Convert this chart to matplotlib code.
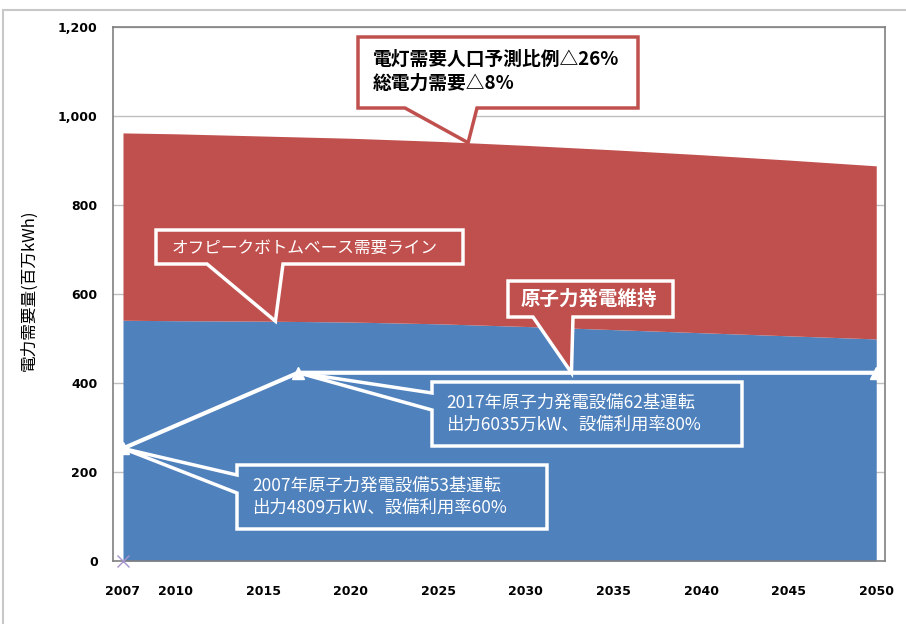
import matplotlib.pyplot as plt
from matplotlib.patches import Polygon, Rectangle
from matplotlib.transforms import IdentityTransform

plt.rcParams['font.family'] = ['Noto Sans CJK JP', 'DejaVu Sans']

# データ（百万kWh）
years = [2007, 2010, 2015, 2020, 2025, 2030, 2035, 2040, 2045, 2050]
base_demand = [541, 540, 539, 537, 533, 527, 520, 513, 506, 499]    # オフピークボトムベース
total_demand = [962, 960, 955, 950, 943, 934, 924, 913, 901, 888]   # 総電力需要
nuclear_years = [2007, 2017, 2050]
nuclear = [253, 423, 423]
xtick_years = [2007, 2010, 2015, 2020, 2025, 2030, 2035, 2040, 2045, 2050]

RED = '#C0504D'
BLUE = '#4F81BD'
W, H = 906, 624

fig = plt.figure(figsize=(W / 100, H / 100), dpi=100)
ax = fig.add_axes([113 / W, 1 - 561 / H, (885 - 113) / W, (561 - 27) / H])

ax.fill_between(years, 0, base_demand, color=BLUE, lw=0, zorder=2)
ax.fill_between(years, base_demand, total_demand, color=RED, lw=0, zorder=2)
ax.plot(nuclear_years, nuclear, color='white', lw=3, marker='^', ms=8,
        mec='white', mfc='white', zorder=3, clip_on=False)
ax.plot([2007], [0], marker='x', color='#A593CC', ms=9, mew=1, zorder=4, clip_on=False)

ax.set_xlim(2006.43, 2050.5)
ax.set_ylim(0, 1200)
ax.set_yticks(range(0, 1201, 200))
ax.set_yticklabels(['0', '200', '400', '600', '800', '1,000', '1,200'])
ax.set_xticks(xtick_years)
ax.grid(axis='y', color='#BFBFBF', lw=1, zorder=1)
ax.set_axisbelow(True)
for s in ax.spines.values():
    s.set_color('#808080')
    s.set_linewidth(1.2)
ax.tick_params(length=0)
ax.tick_params(axis='y', pad=11)
ax.tick_params(axis='x', pad=17)
for lab in ax.get_xticklabels() + ax.get_yticklabels():
    lab.set_fontfamily('DejaVu Sans')
    lab.set_fontweight('bold')
    lab.set_fontsize(9)
ax.set_ylabel('電力需要量(百万kWh)', fontsize=12)
ax.yaxis.set_label_coords(-0.098, 0.507)

# 外枠
fig.add_artist(Rectangle((3, -20), 1000, H - 10 + 20, transform=IdentityTransform(),
                         fill=False, ec='#C8C8C8', lw=1.5))

fig.canvas.draw()


def px(x, y):
    return (x, H - y)


def tip(xd, yd):
    return tuple(ax.transData.transform((xd, yd)))


def callout_bottom(box, b1, b2, t, fc, ec):
    x0, y0, x1, y1 = box
    pts = [px(x0, y0), px(x1, y0), px(x1, y1), px(b2, y1), t, px(b1, y1), px(x0, y1)]
    fig.add_artist(Polygon(pts, closed=True, fc=fc, ec=ec, lw=2.5,
                           transform=IdentityTransform(), zorder=5))


def callout_left(box, b1, b2, t, fc, ec):
    x0, y0, x1, y1 = box
    pts = [px(x0, y0), px(x1, y0), px(x1, y1), px(x0, y1), px(x0, b2), t, px(x0, b1)]
    fig.add_artist(Polygon(pts, closed=True, fc=fc, ec=ec, lw=2.5,
                           transform=IdentityTransform(), zorder=5))


def label(x, y, s, color, size, weight='normal', ls=1.25):
    fig.text(*px(x, y), s, transform=IdentityTransform(), color=color, fontsize=size,
             fontweight=weight, ha='left', va='center', linespacing=ls, zorder=6)


callout_bottom((358, 37, 638, 108), 405, 477, tip(2026.7, 940), 'white', RED)
label(373, 71, '電灯需要人口予測比例△26%\n総電力需要△8%', 'black', 13.5, 'bold', 1.3)

callout_bottom((156, 230, 463, 264), 207, 283, tip(2015.7, 539), RED, 'white')
label(172, 248, 'オフピークボトムベース需要ライン', 'white', 12)

callout_bottom((508, 281, 673, 317), 533, 573, tip(2032.6, 423), RED, 'white')
label(521, 299, '原子力発電維持', 'white', 14, 'bold')

callout_left((432, 382, 742, 446), 393, 410, tip(2017, 423), BLUE, 'white')
label(446, 414, '2017年原子力発電設備62基運転\n出力6035万kW、設備利用率80%', 'white', 12.5, 'normal', 1.3)

callout_left((237, 465, 547, 529), 475, 493, tip(2007, 253), BLUE, 'white')
label(252, 497, '2007年原子力発電設備53基運転\n出力4809万kW、設備利用率60%', 'white', 12.5, 'normal', 1.3)

fig.savefig('out.png', dpi=100)
